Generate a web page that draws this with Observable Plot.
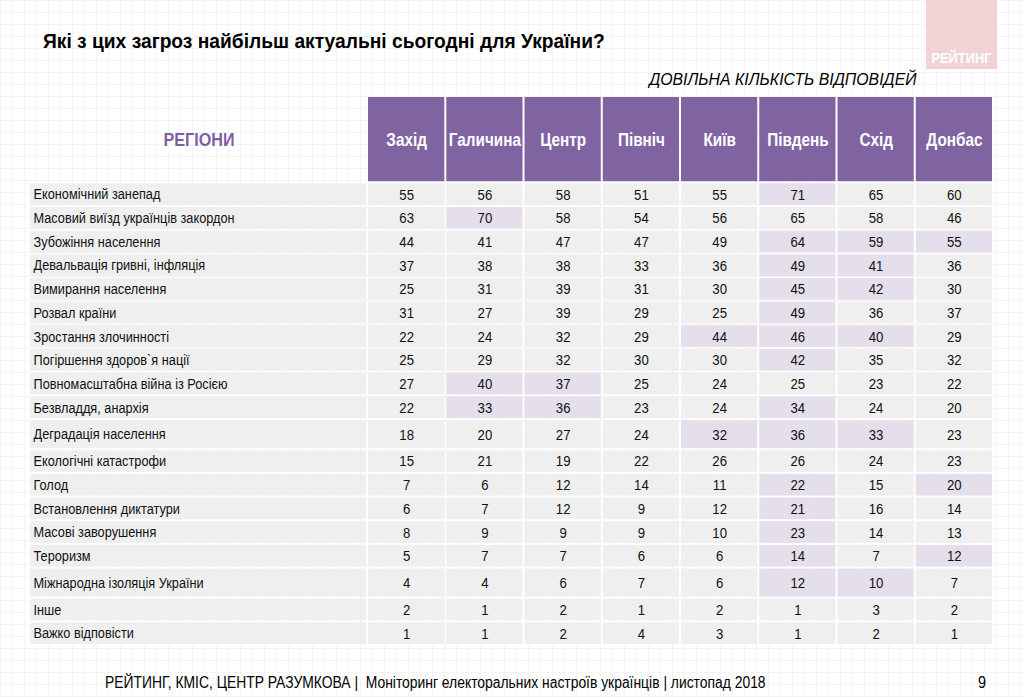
<!DOCTYPE html>
<html><head><meta charset="utf-8">
<script src="https://cdn.jsdelivr.net/npm/d3@7"></script>
<script src="https://cdn.jsdelivr.net/npm/@observablehq/plot@0.6"></script>
<style>
body{margin:0;background:#fff;}
#page{position:relative;width:1024px;height:697px;overflow:hidden;
 font-family:"Liberation Sans",Arial,sans-serif;
 background-color:#fff;
 background-image:linear-gradient(#f4f4f4 1px,transparent 1px),linear-gradient(90deg,#f4f4f4 1px,transparent 1px);
 background-size:12px 12px;}
#title{position:absolute;left:43px;top:30px;font-size:21px;font-weight:bold;color:#000;white-space:nowrap;line-height:22px;transform:scaleX(0.915);transform-origin:left center;}
#subtitle{position:absolute;right:107px;top:70px;font-size:17px;font-style:italic;color:#000;white-space:nowrap;line-height:20px;transform:scaleX(0.93);transform-origin:right center;}
#logo{position:absolute;left:926px;top:0;width:71px;height:69px;background:#f2d3d5;}
#logo span{position:absolute;left:0;right:0;bottom:3px;text-align:center;color:#fff;font-weight:bold;font-size:14px;transform:scaleX(0.92);}
#footer{position:absolute;left:105px;top:673px;font-size:16px;color:#000;white-space:nowrap;line-height:20px;transform:scaleX(0.867);transform-origin:left center;}
#pagenum{position:absolute;left:978px;top:673px;font-size:17px;color:#000;line-height:20px;transform:scaleX(0.85);transform-origin:left center;}
#chart{position:absolute;left:30px;top:97px;}
</style></head>
<body>
<div id="page">
  <div id="title">Які з цих загроз найбільш актуальні сьогодні для України?</div>
  <div id="logo"><span>РЕЙТИНГ</span></div>
  <div id="subtitle">ДОВІЛЬНА КІЛЬКІСТЬ ВІДПОВІДЕЙ</div>
  <div id="chart"></div>
  <div id="footer">РЕЙТИНГ, КМІС, ЦЕНТР РАЗУМКОВА |&nbsp; Моніторинг електоральних настроїв українців | листопад 2018</div>
  <div id="pagenum">9</div>
</div>
<script>
// ---- Data ----
const headerLabel = "РЕГІОНИ";
const regions = ["Захід","Галичина","Центр","Північ","Київ","Південь","Схід","Донбас"];
const threats = [
  "Економічний занепад",
  "Масовий виїзд українців закордон",
  "Зубожіння населення",
  "Девальвація гривні, інфляція",
  "Вимирання населення",
  "Розвал країни",
  "Зростання злочинності",
  "Погіршення здоров`я нації",
  "Повномасштабна війна із Росією",
  "Безвладдя, анархія",
  "Деградація населення",
  "Екологічні катастрофи",
  "Голод",
  "Встановлення диктатури",
  "Масові заворушення",
  "Тероризм",
  "Міжнародна ізоляція України",
  "Інше",
  "Важко відповісти"
];
const zakhid   = [55,63,44,37,25,31,22,25,27,22,18,15,7,6,8,5,4,2,1];
const halychyna= [56,70,41,38,31,27,24,29,40,33,20,21,6,7,9,7,4,1,1];
const tsentr   = [58,58,47,38,39,39,32,32,37,36,27,19,12,12,9,7,6,2,2];
const pivnich  = [51,54,47,33,31,29,29,30,25,23,24,22,14,9,9,6,7,1,4];
const kyiv     = [55,56,49,36,30,25,44,30,24,24,32,26,11,12,10,6,6,2,3];
const pivden   = [71,65,64,49,45,49,46,42,25,34,36,26,22,21,23,14,12,1,1];
const skhid    = [65,58,59,41,42,36,40,35,23,24,33,24,15,16,14,7,10,3,2];
const donbas   = [60,46,55,36,30,37,29,32,22,20,23,23,20,14,13,12,7,2,1];
const series = [zakhid, halychyna, tsentr, pivnich, kyiv, pivden, skhid, donbas];
// highlighted cells: [threat, region]
const highlighted = [
  ["Економічний занепад","Південь"],
  ["Масовий виїзд українців закордон","Галичина"],
  ["Зубожіння населення","Південь"],["Зубожіння населення","Схід"],["Зубожіння населення","Донбас"],
  ["Девальвація гривні, інфляція","Південь"],["Девальвація гривні, інфляція","Схід"],
  ["Вимирання населення","Південь"],["Вимирання населення","Схід"],
  ["Розвал країни","Південь"],
  ["Зростання злочинності","Київ"],["Зростання злочинності","Південь"],["Зростання злочинності","Схід"],
  ["Погіршення здоров`я нації","Південь"],
  ["Повномасштабна війна із Росією","Галичина"],["Повномасштабна війна із Росією","Центр"],
  ["Безвладдя, анархія","Галичина"],["Безвладдя, анархія","Центр"],["Безвладдя, анархія","Південь"],
  ["Деградація населення","Київ"],["Деградація населення","Південь"],["Деградація населення","Схід"],
  ["Голод","Південь"],["Голод","Донбас"],
  ["Встановлення диктатури","Південь"],
  ["Масові заворушення","Південь"],
  ["Тероризм","Південь"],["Тероризм","Донбас"],
  ["Міжнародна ізоляція України","Південь"],["Міжнародна ізоляція України","Схід"]
];

// ---- Layout (table geometry in column / row units) ----
const labelCols = 4.307;          // label column width, in data-column units
const headerRows = 3.6;           // header height, in row units
const tallRows = new Set(["Деградація населення","Міжнародна ізоляція України"]);
const rowUnits = threats.map(t => tallRows.has(t) ? 1.27 : 1);
const rowTop = d3.cumsum([headerRows, ...rowUnits]).slice(0, threats.length);
const total = headerRows + d3.sum(rowUnits);

const PURPLE = "#8064a2", LAV = "#e5dfec", GRAY = "#efefef";
const FONT = '"Liberation Sans",Arial,sans-serif';
const NARROW = 0.85;
const hlSet = new Set(highlighted.map(([t, r]) => t + "|" + r));

const rows = threats.map((t, i) => ({t, i, y1: rowTop[i], y2: rowTop[i] + rowUnits[i]}));
const header = regions.map((r, j) => ({r, j}));
const cells = rows.flatMap(row => regions.map((r, j) => ({
  ...row, r, j, v: series[j][row.i], hl: hlSet.has(row.t + "|" + r)
})));

const chart = Plot.plot({
  width: 963,
  height: 548,
  margin: 0,
  x: {domain: [-labelCols, regions.length], axis: null},
  y: {domain: [0, total], reverse: true, axis: null},
  style: {background: "transparent", fontFamily: FONT, overflow: "visible"},
  marks: [
    // header
    Plot.rect(header, {x1: d => d.j, x2: d => d.j + 1, y1: 0, y2: headerRows,
      fill: PURPLE, insetLeft: 1, insetRight: 1, insetBottom: 1}),
    Plot.text(header, {x: d => d.j + 0.5, y: headerRows / 2, text: d => d.r,
      fill: "white", fontWeight: "bold", fontSize: 18}),
    Plot.text([headerLabel], {x: -labelCols / 2, y: headerRows / 2, text: d => d,
      fill: "#7f5fa1", fontWeight: "bold", fontSize: 19}),
    // label column
    Plot.rect(rows, {x1: -labelCols, x2: 0, y1: "y1", y2: "y2", fill: GRAY,
      insetTop: 1, insetBottom: 1, insetRight: 1}),
    Plot.text(rows, {x: -labelCols, y: d => (d.y1 + d.y2) / 2, text: "t",
      textAnchor: "start", dx: 3, fill: "#111", fontSize: 15}),
    // data cells
    Plot.rect(cells, {x1: d => d.j, x2: d => d.j + 1, y1: "y1", y2: "y2",
      fill: d => d.hl ? LAV : GRAY, inset: 1}),
    Plot.text(cells, {x: d => d.j + 0.5, y: d => (d.y1 + d.y2) / 2, text: d => String(d.v),
      fill: "#111", fontSize: 15.5})
  ]
});
// condensed (Arial Narrow-like) text: scale each text horizontally about its anchor
chart.querySelectorAll("text").forEach(el => {
  const ax = +el.getAttribute("x") || 0, ay = +el.getAttribute("y") || 0;
  const t = el.getAttribute("transform") || "";
  el.setAttribute("transform", `${t} translate(${ax},${ay}) scale(${NARROW},1) translate(${-ax},${-ay})`);
});
document.getElementById("chart").appendChild(chart);
</script>
</body></html>
